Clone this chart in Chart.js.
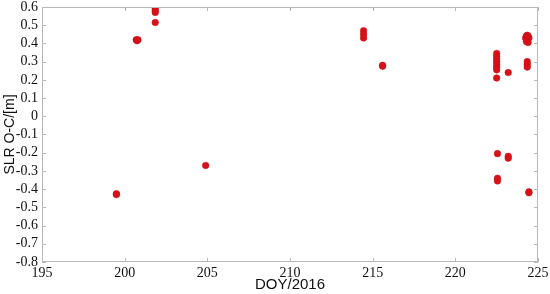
<!DOCTYPE html>
<html>
<head>
<meta charset="utf-8">
<script src="https://cdn.jsdelivr.net/npm/chart.js@4/dist/chart.umd.min.js"></script>
<style>
  html, body { margin: 0; padding: 0; background: #fff; }
  #wrap { width: 550px; height: 294px; }
</style>
</head>
<body>
<div id="wrap"><canvas id="c"></canvas></div>
<script>
// day of year (2016) and SLR O-C residuals in metres
const doy = [
  199.5, 199.5,
  200.7, 200.75, 200.8,
  201.85, 201.85, 201.85, 201.85,
  204.9,
  214.45, 214.45, 214.45,
  215.6, 215.6,
  222.5, 222.5, 222.5, 222.5, 222.5, 222.5, 222.5, 222.5,
  222.55, 222.55, 222.55,
  223.2, 223.2, 223.2,
  224.25, 224.3, 224.35, 224.4, 224.45, 224.3, 224.4,
  224.35, 224.35, 224.35,
  224.45, 224.45
];
const slr = [
  -0.43, -0.425,
  0.42, 0.415, 0.42,
  0.59, 0.58, 0.57, 0.515,
  -0.27,
  0.47, 0.45, 0.43,
  0.28, 0.275,
  0.345, 0.33, 0.315, 0.3, 0.285, 0.27, 0.255, 0.21,
  -0.205, -0.34, -0.355,
  0.24, -0.22, -0.23,
  0.43, 0.44, 0.445, 0.44, 0.43, 0.41, 0.405,
  0.3, 0.285, 0.27,
  -0.415, -0.42
];
const xTicks = [195, 200, 205, 210, 215, 220, 225];
const yTicks = [0.6, 0.5, 0.4, 0.3, 0.2, 0.1, 0, -0.1, -0.2, -0.3, -0.4, -0.5, -0.6, -0.7, -0.8];

const points = doy.map((d, i) => ({ x: d, y: slr[i] }));

const serif = '"Liberation Serif", "Times New Roman", serif';
const sans = '"Liberation Sans", Arial, sans-serif';
const axisGray = '#b8b8b8';

// matlab style box with ticks pointing inwards
const innerTicks = {
  id: 'innerTicks',
  afterDraw(chart) {
    const { ctx, chartArea: a, scales } = chart;
    const len = 4;
    ctx.save();
    ctx.strokeStyle = axisGray;
    ctx.lineWidth = 1;
    ctx.strokeRect(a.left + 0.5, a.top + 0.5, a.right - a.left - 1, a.bottom - a.top - 1);
    ctx.beginPath();
    xTicks.forEach(v => {
      const px = Math.round(scales.x.getPixelForValue(v)) + 0.5;
      ctx.moveTo(px, a.bottom); ctx.lineTo(px, a.bottom - len);
      ctx.moveTo(px, a.top); ctx.lineTo(px, a.top + len);
    });
    yTicks.forEach(v => {
      const py = Math.round(scales.y.getPixelForValue(v)) + 0.5;
      ctx.moveTo(a.left, py); ctx.lineTo(a.left + len, py);
      ctx.moveTo(a.right, py); ctx.lineTo(a.right - len, py);
    });
    ctx.stroke();
    ctx.restore();
  }
};

new Chart(document.getElementById('c'), {
  type: 'scatter',
  data: {
    datasets: [{
      data: points,
      backgroundColor: 'rgb(214, 18, 24)',
      borderColor: 'rgb(200, 14, 20)',
      borderWidth: 0.5,
      pointRadius: 3.3
    }]
  },
  options: {
    responsive: true,
    maintainAspectRatio: false,
    animation: false,
    layout: { padding: { top: 7, right: 12, left: 2, bottom: 0 } },
    plugins: { legend: { display: false }, tooltip: { enabled: false } },
    scales: {
      x: {
        type: 'linear',
        min: 195, max: 225,
        afterBuildTicks: s => { s.ticks = xTicks.map(v => ({ value: v })); },
        afterFit: s => { s.height = 32; s.paddingLeft = 0; s.paddingRight = 0; },
        grid: { display: false, drawTicks: false },
        border: { display: false },
        ticks: {
          padding: 3,
          autoSkip: false,
          color: '#111',
          font: { family: serif, size: 14 },
          maxRotation: 0,
          callback: v => String(v)
        },
        title: {
          display: true,
          text: 'DOY/2016',
          color: '#111',
          font: { family: sans, size: 15 },
          padding: { top: -5, bottom: 0 }
        }
      },
      y: {
        type: 'linear',
        min: -0.8, max: 0.6,
        afterBuildTicks: s => { s.ticks = yTicks.map(v => ({ value: v })); },
        afterFit: s => { s.width = 40; s.paddingTop = 0; s.paddingBottom = 0; },
        grid: { display: false, drawTicks: false },
        border: { display: false },
        ticks: {
          padding: 4,
          autoSkip: false,
          color: '#111',
          font: { family: serif, size: 14 },
          callback: v => String(Math.round(v * 10) / 10)
        },
        title: {
          display: true,
          text: 'SLR O-C/[m]',
          color: '#111',
          font: { family: sans, size: 14 },
          padding: { top: 0, bottom: 0 }
        }
      }
    }
  },
  plugins: [innerTicks]
});
</script>
</body>
</html>
